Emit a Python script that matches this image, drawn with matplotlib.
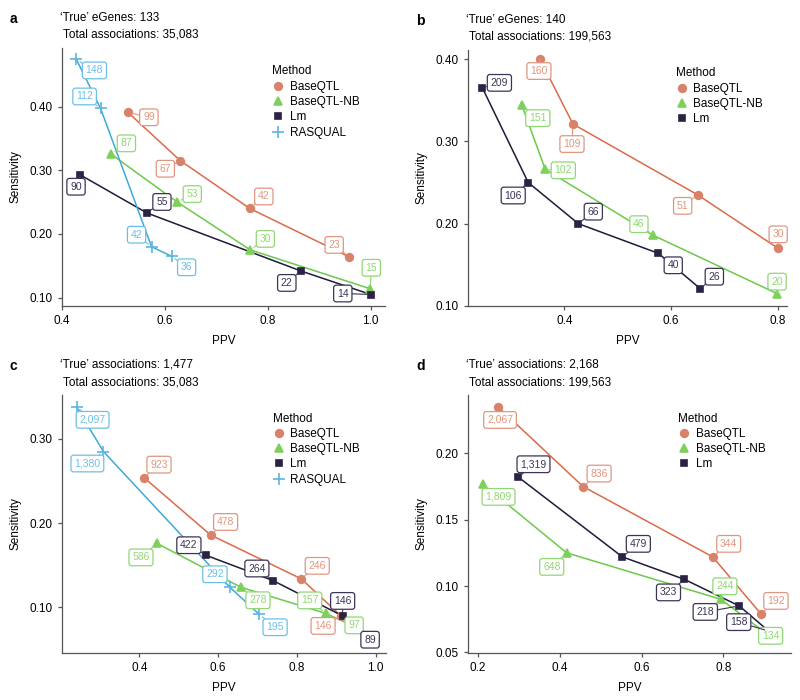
import matplotlib
matplotlib.use('Agg')
import matplotlib.pyplot as plt
from matplotlib.ticker import FormatStrFormatter

plt.rcParams['font.family'] = ['Liberation Sans', 'DejaVu Sans']

METHODS = ['BaseQTL', 'BaseQTL-NB', 'Lm', 'RASQUAL']

# ---- panel a: eGenes, 35,083 associations
a_ppv = {'BaseQTL': [0.528, 0.630, 0.765, 0.958],
         'BaseQTL-NB': [0.496, 0.624, 0.766, 0.999],
         'Lm': [0.435, 0.565, 0.864, 1.000],
         'RASQUAL': [0.428, 0.475, 0.574, 0.613]}
a_sens = {'BaseQTL': [0.391, 0.315, 0.240, 0.164],
          'BaseQTL-NB': [0.325, 0.250, 0.175, 0.114],
          'Lm': [0.293, 0.233, 0.142, 0.105],
          'RASQUAL': [0.474, 0.397, 0.180, 0.165]}
a_n = {'BaseQTL': ['99', '67', '42', '23'],
       'BaseQTL-NB': ['87', '53', '30', '15'],
       'Lm': ['90', '55', '22', '14'],
       'RASQUAL': ['148', '112', '42', '36']}

# ---- panel b: eGenes, 199,563 associations
b_ppv = {'BaseQTL': [0.354, 0.416, 0.650, 0.801],
         'BaseQTL-NB': [0.320, 0.364, 0.566, 0.799],
         'Lm': [0.246, 0.332, 0.426, 0.576, 0.655]}
b_sens = {'BaseQTL': [0.400, 0.321, 0.235, 0.170],
          'BaseQTL-NB': [0.344, 0.266, 0.186, 0.115],
          'Lm': [0.365, 0.250, 0.200, 0.164, 0.121]}
b_n = {'BaseQTL': ['160', '109', '51', '30'],
       'BaseQTL-NB': ['151', '102', '46', '20'],
       'Lm': ['209', '106', '66', '40', '26']}

# ---- panel c: associations, 35,083
c_ppv = {'BaseQTL': [0.412, 0.581, 0.811, 0.912],
         'BaseQTL-NB': [0.445, 0.658, 0.873, 0.935],
         'Lm': [0.569, 0.739, 0.916, 0.978],
         'RASQUAL': [0.241, 0.309, 0.630, 0.704]}
c_sens = {'BaseQTL': [0.254, 0.186, 0.134, 0.090],
          'BaseQTL-NB': [0.176, 0.124, 0.093, 0.080],
          'Lm': [0.162, 0.132, 0.090, 0.063],
          'RASQUAL': [0.338, 0.285, 0.124, 0.092]}
c_n = {'BaseQTL': ['923', '478', '246', '146'],
       'BaseQTL-NB': ['586', '278', '157', '97'],
       'Lm': ['422', '264', '146', '89'],
       'RASQUAL': ['2,097', '1,380', '292', '195']}

# ---- panel d: associations, 199,563
d_ppv = {'BaseQTL': [0.249, 0.457, 0.774, 0.892],
         'BaseQTL-NB': [0.211, 0.417, 0.794, 0.906],
         'Lm': [0.299, 0.553, 0.705, 0.839, 0.911]}
d_sens = {'BaseQTL': [0.235, 0.175, 0.122, 0.079],
          'BaseQTL-NB': [0.177, 0.125, 0.090, 0.064],
          'Lm': [0.182, 0.122, 0.105, 0.085, 0.066]}
d_n = {'BaseQTL': ['2,067', '836', '344', '192'],
       'BaseQTL-NB': ['1,809', '648', '244', '134'],
       'Lm': ['1,319', '479', '323', '218', '158']}

# label offsets (pixels) from each point, as placed by the repel step
a_off = {'BaseQTL': [(21, -5), (-15, -8), (14, 12), (-15, 12)],
         'BaseQTL-NB': [(15, 11), (15, 8), (15, 11), (1, 21)],
         'Lm': [(-4, -12), (15, 11), (-14, -12), (-28, 1)],
         'RASQUAL': [(18, -11), (-16, 12), (-15, 12), (15, -11)]}
b_off = {'BaseQTL': [(-1, -12), (-1, -20), (-15, -11), (0, 14)],
         'BaseQTL-NB': [(16, -13), (18, -1), (-14, 11), (0, 12)],
         'Lm': [(17, 5), (-15, -13), (15, 12), (15, -12), (14, 12)]}
c_off = {'BaseQTL': [(15, 13), (15, 13), (16, 13), (-18, -10)],
         'BaseQTL-NB': [(-16, -14), (17, -13), (-16, 13), (4, -1)],
         'Lm': [(-17, 10), (-16, 12), (0, 15), (3, -1)],
         'RASQUAL': [(16, -13), (-16, -12), (-15, 13), (16, -13)]}
d_off = {'BaseQTL': [(2, -13), (16, 13), (16, 13), (15, 13)],
         'BaseQTL-NB': [(4, -2), (-15, -14), (4, 13), (4, -2)],
         'Lm': [(15, 13), (16, 13), (-16, -13), (-34, -6), (-30, 9)]}
d_off['BaseQTL-NB'][0] = (16, -13)

STYLE = {
    'BaseQTL': dict(marker='o', ms=5.5, pt='#d9826a', line='#dc6a48', lab='#e2957f'),
    'BaseQTL-NB': dict(marker='^', ms=6, pt='#7fd05a', line='#6cc94a', lab='#8fd873'),
    'Lm': dict(marker='s', ms=5, pt='#2b2244', line='#1e1a3a', lab='#3d3358'),
    'RASQUAL': dict(marker='+', ms=8, pt='#5bb6e0', line='#3fa9d9', lab='#6cc0e6'),
}

PANELS = [
    dict(letter='a', title="\u2018True\u2019 eGenes: 133\n Total associations: 35,083",
         ppv=a_ppv, sens=a_sens, n=a_n, off=a_off,
         rect=[0.0775, 0.5629, 0.404, 0.3686], xlim=(0.4, 1.028), ylim=(0.087, 0.492),
         xt=[0.4, 0.6, 0.8, 1.0], yt=[0.1, 0.2, 0.3, 0.4], yfmt='%.2f'),
    dict(letter='b', title="\u2018True\u2019 eGenes: 140\n Total associations: 199,563",
         ppv=b_ppv, sens=b_sens, n=b_n, off=b_off,
         rect=[0.585, 0.5629, 0.399, 0.3657], xlim=(0.219, 0.818), ylim=(0.1, 0.411),
         xt=[0.4, 0.6, 0.8], yt=[0.1, 0.2, 0.3, 0.4], yfmt='%.2f'),
    dict(letter='c', title="\u2018True\u2019 associations: 1,477\n Total associations: 35,083",
         ppv=c_ppv, sens=c_sens, n=c_n, off=c_off,
         rect=[0.0775, 0.0671, 0.405, 0.3686], xlim=(0.204, 1.026), ylim=(0.046, 0.352),
         xt=[0.4, 0.6, 0.8, 1.0], yt=[0.1, 0.2, 0.3], yfmt='%.2f'),
    dict(letter='d', title="\u2018True\u2019 associations: 2,168\n Total associations: 199,563",
         ppv=d_ppv, sens=d_sens, n=d_n, off=d_off,
         rect=[0.585, 0.0671, 0.404, 0.3686], xlim=(0.1755, 0.966), ylim=(0.0495, 0.244),
         xt=[0.2, 0.4, 0.6, 0.8], yt=[0.05, 0.10, 0.15, 0.20], yfmt='%.2f'),
]

FS = 8.5
fig = plt.figure(figsize=(8, 7), dpi=100)

for p in PANELS:
    ax = fig.add_axes(p['rect'])
    handles = []
    for m in METHODS:
        if m not in p['ppv']:
            continue
        st = STYLE[m]
        xs, ys = p['ppv'][m], p['sens'][m]
        ax.plot(xs, ys, color=st['line'], lw=1.1, zorder=2)
        h, = ax.plot(xs, ys, ls='none', marker=st['marker'], ms=st['ms'],
                     color=st['pt'], mec=st['pt'], mew=1.2, zorder=3, label=m)
        handles.append(h)
        for x, y, txt, off in zip(xs, ys, p['n'][m], p['off'][m]):
            ax.annotate(txt, (x, y), xytext=off, textcoords='offset pixels',
                        ha='center', va='center', fontsize=7.5, color=st['lab'],
                        bbox=dict(boxstyle='round,pad=0.32,rounding_size=0.25',
                                  fc='white', ec=st['lab'], lw=0.9),
                        arrowprops=dict(arrowstyle='-', color=st['lab'], lw=0.8,
                                        shrinkA=0, shrinkB=3),
                        zorder=5, annotation_clip=False)

    ax.set_xlim(*p['xlim'])
    ax.set_ylim(*p['ylim'])
    ax.set_xticks(p['xt'])
    ax.set_yticks(p['yt'])
    ax.xaxis.set_major_formatter(FormatStrFormatter('%.1f'))
    ax.yaxis.set_major_formatter(FormatStrFormatter(p['yfmt']))
    for s in ['top', 'right']:
        ax.spines[s].set_visible(False)
    for s in ['left', 'bottom']:
        ax.spines[s].set_color('#555555')
        ax.spines[s].set_linewidth(0.9)
    ax.tick_params(colors='#555555', labelcolor='black', labelsize=FS, length=3, width=0.9)
    ax.set_xlabel('PPV', fontsize=FS, labelpad=6)
    ax.set_ylabel('Sensitivity', fontsize=FS, labelpad=6)

    leg = ax.legend(handles=handles, title='Method', loc='upper left',
                    bbox_to_anchor=(0.632, 0.955), frameon=False, fontsize=FS,
                    title_fontsize=FS, borderpad=0, labelspacing=0.28,
                    handlelength=1.0, handletextpad=0.5, alignment='left')

    # title block and panel letter, placed relative to the axes box
    l, b, w, h = p['rect']
    fig.text(l - 0.003, b + h + 0.052, p['title'], fontsize=FS, ha='left', va='top',
             linespacing=1.6)
    fig.text(l - 0.065, b + h + 0.051, p['letter'], fontsize=10, fontweight='bold',
             ha='left', va='top')

fig.savefig('out.png', dpi=100)
